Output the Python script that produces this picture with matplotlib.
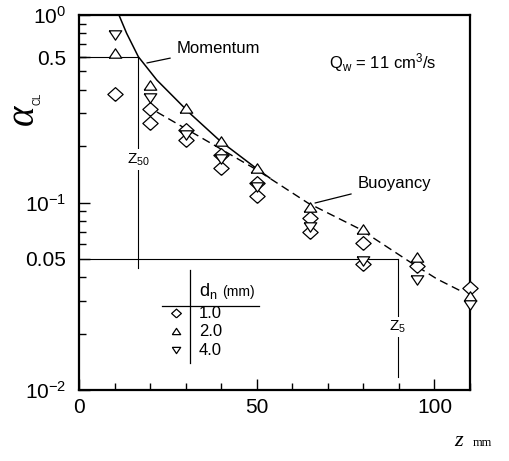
import matplotlib
matplotlib.use("Agg")
import matplotlib.pyplot as plt
from matplotlib.ticker import FixedLocator, LogLocator, NullFormatter, FixedFormatter

plt.rcParams['font.family'] = ['Liberation Sans', 'DejaVu Sans']
plt.rcParams['mathtext.default'] = 'regular'

# measured centreline concentration, alpha_CL vs z (mm)
z_pts = [10, 20, 30, 40, 50, 65, 80, 95, 110]
a_d2 = [0.625, 0.423, 0.319, 0.213, 0.153, 0.0946, 0.072, 0.051, 0.0316]
a_d4 = [0.78, 0.361, 0.229, 0.171, 0.121, 0.074, 0.049, 0.0386, 0.0284]
z_d1 = [10, 20, 20, 30, 30, 40, 40, 50, 50, 65, 65, 80, 80, 95, 110]
a_d1 = [0.38, 0.315, 0.265, 0.244, 0.216, 0.179, 0.153, 0.127, 0.108,
        0.083, 0.070, 0.061, 0.047, 0.046, 0.035]

# model curves
z_mom = [11.05, 13.4, 16.7, 21.9, 27.5, 31.2, 39.7, 50.1, 53.7]
a_mom = [1.02, 0.799, 0.599, 0.450, 0.352, 0.299, 0.213, 0.151, 0.135]
z_buoy = [21.9, 34.0, 50.1, 64.4, 79.0, 93.1, 100.7, 108.0]
a_buoy = [0.304, 0.224, 0.149, 0.0994, 0.0722, 0.0482, 0.0391, 0.0333]

# reference levels (the "0.5" line sits at this height in the original)
a50_level = 0.597
z50 = 16.6
a5_level = 0.05
z5 = 89.7

ytick_vals = [1.0, a50_level, 0.1, a5_level, 0.01]
ytick_labels = [r'$10^{0}$', '0.5', r'$10^{-1}$', '0.05', r'$10^{-2}$']
xtick_vals = [0, 50, 100]
xtick_labels = ['0', '50', '100']

legend_labels = ['1.0', '2.0', '4.0']

diamond = [(0, -0.9), (1, 0), (0, 0.9), (-1, 0), (0, -0.9)]
tri_up = [(-1, -0.75), (1, -0.75), (0, 0.75), (-1, -0.75)]
tri_dn = [(-1, 0.75), (1, 0.75), (0, -0.75), (-1, 0.75)]

fig = plt.figure(figsize=(5.09, 4.61), dpi=100)
ax = fig.add_axes([0.1552, 0.1540, 0.7682, 0.8134])
ax.set_yscale('log')
ax.set_xlim(0, 110)
ax.set_ylim(0.01, 1.0)

# reference lines
ax.plot([0, z50], [a50_level, a50_level], color='k', lw=0.8)
ax.plot([z50, z50], [a50_level, 0.0447], color='k', lw=0.8)
ax.plot([0, z5], [a5_level, a5_level], color='k', lw=0.8)
ax.plot([z5, z5], [a5_level, 0.0117], color='k', lw=0.8)

ax.plot(z_mom, a_mom, color='k', lw=1.1)
ax.plot(z_buoy, a_buoy, color='k', lw=1.0, dashes=(6, 3.5))

mk = dict(ls='none', mfc='white', mec='k', mew=0.9)
ax.plot(z_d1, a_d1, marker=diamond, ms=11, clip_on=False, zorder=3, **mk)
ax.plot(z_pts, a_d2, marker=tri_up, ms=9, clip_on=False, zorder=3, **mk)
ax.plot(z_pts, a_d4, marker=tri_dn, ms=9, clip_on=False, zorder=3, **mk)

ax.annotate('Momentum', xy=(19.1, 0.555), xytext=(27.6, 0.667), ha='left', va='center',
            fontsize=12, arrowprops=dict(arrowstyle='-', lw=0.9, shrinkA=3, shrinkB=0))
ax.annotate('Buoyancy', xy=(66.4, 0.0994), xytext=(78.5, 0.127), ha='left', va='center',
            fontsize=12, arrowprops=dict(arrowstyle='-', lw=0.9, shrinkA=3, shrinkB=0))
ax.text(70.3, 0.555, r'Q$_{w}$ = 11 cm$^{3}$/s', ha='left', va='center', fontsize=12)

bb = dict(facecolor='white', edgecolor='none', pad=1.5)
ax.text(z50, 0.169, r'Z$_{50}$', ha='center', va='center', fontsize=11, bbox=bb)
ax.text(z5, 0.0217, r'Z$_{5}$', ha='center', va='center', fontsize=11, bbox=bb)

# legend drawn as a small table
tr = ax.transAxes
ax.plot([0.284, 0.284], [0.072, 0.32], color='k', lw=0.9, transform=tr)
ax.plot([0.212, 0.460], [0.224, 0.224], color='k', lw=0.9, transform=tr)
ax.text(0.307, 0.264, r'd$_{n}$', ha='left', va='center', fontsize=13, transform=tr)
ax.text(0.365, 0.262, '(mm)', ha='left', va='center', fontsize=10, transform=tr)
leg_y = [0.205, 0.157, 0.106]
for m, lab, yy in zip([diamond, tri_up, tri_dn], legend_labels, leg_y):
    ax.plot([0.248], [yy], marker=m, ms=7 if m is diamond else 6, transform=tr, **mk)
    ax.text(0.307, yy, lab, ha='left', va='center', fontsize=12, transform=tr)

ax.yaxis.set_major_locator(FixedLocator(ytick_vals))
ax.yaxis.set_major_formatter(FixedFormatter(ytick_labels))
ax.yaxis.set_minor_locator(LogLocator(base=10, subs=[0.2, 0.3, 0.4, 0.5, 0.6, 0.7, 0.8, 0.9]))
ax.yaxis.set_minor_formatter(NullFormatter())
ax.xaxis.set_major_locator(FixedLocator(xtick_vals))
ax.xaxis.set_major_formatter(FixedFormatter(xtick_labels))
ax.xaxis.set_minor_locator(FixedLocator(range(0, 111, 10)))

ax.tick_params(which='both', direction='in', top=False, right=False, labelsize=15, width=1.0)
ax.tick_params(which='major', length=8)
ax.tick_params(which='minor', length=5)
ax.tick_params(axis='y', pad=9)
ax.tick_params(axis='x', pad=6)
for s in ax.spines.values():
    s.set_linewidth(1.6)

fig.text(0.045, 0.75, 'α', rotation=90, ha='center', va='center', fontsize=28,
         family='Liberation Serif', style='italic')
fig.text(0.073, 0.785, 'CL', rotation=90, ha='center', va='center', fontsize=7)
fig.text(0.900, 0.043, 'z', ha='center', va='center', fontsize=16,
         family='Liberation Serif', style='italic')
fig.text(0.947, 0.040, 'mm', ha='center', va='center', fontsize=9, family='Liberation Serif')

fig.savefig('out.png', dpi=100)
